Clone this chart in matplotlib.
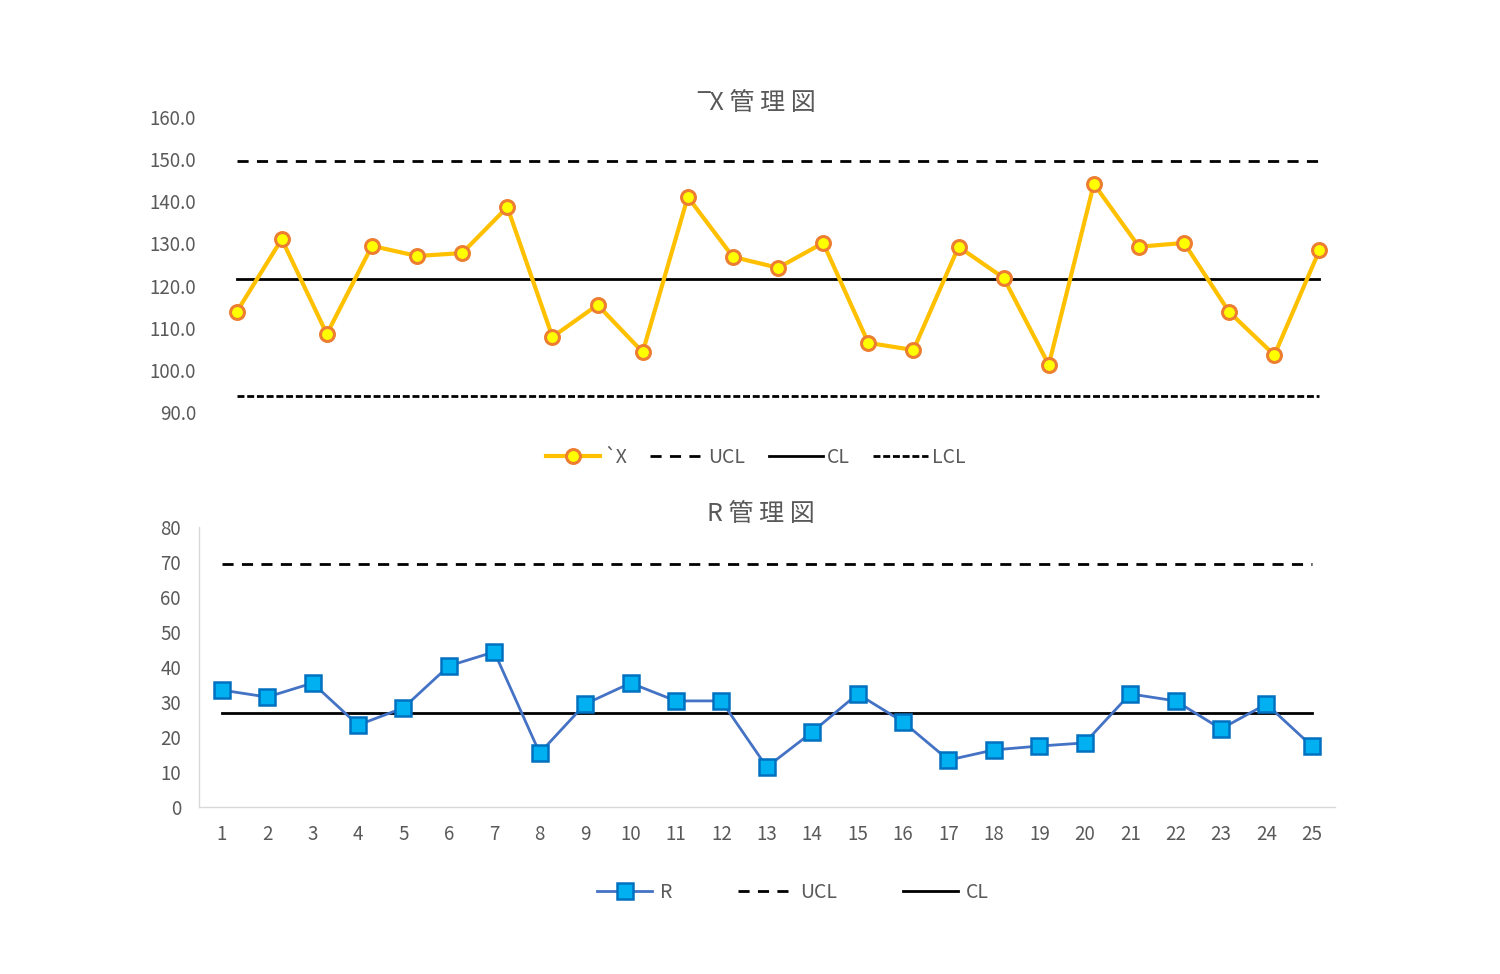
import matplotlib
matplotlib.use("Agg")
import matplotlib.pyplot as plt

plt.rcParams['font.family'] = ['Noto Sans CJK JP', 'DejaVu Sans']

# サンプル番号
samples = list(range(1, 26))

# X-bar 管理図のデータ
xbar = [113.7, 131.0, 108.5, 129.4, 127.0, 127.7, 138.6, 107.8, 115.4, 104.2,
        141.0, 126.8, 124.2, 130.1, 106.4, 104.7, 129.2, 121.8, 101.2, 144.1,
        129.2, 130.1, 113.7, 103.5, 128.4]
x_ucl = 149.6
x_cl = 121.6
x_lcl = 93.8

# R 管理図のデータ
r_vals = [33.4, 31.4, 35.4, 23.4, 28.3, 40.3, 44.3, 15.4, 29.4, 35.4,
          30.3, 30.3, 11.4, 21.4, 32.3, 24.3, 13.4, 16.3, 17.4, 18.3,
          32.3, 30.3, 22.3, 29.4, 17.4]
r_ucl = 69.4
r_cl = 26.9

x_ticks = [90, 100, 110, 120, 130, 140, 150, 160]
r_ticks = [0, 10, 20, 30, 40, 50, 60, 70, 80]

gray = '#595959'
fig = plt.figure(figsize=(15, 9.74), dpi=100)

# ---- X-bar chart ----
ax1 = fig.add_axes([0.1427, 0.577, 0.752, 0.303])
ax1.plot(samples, xbar, color='#FFC000', lw=3, marker='o', ms=10,
         mfc='#FFFF00', mec='#ED7D31', mew=2.2, label='`X', zorder=3)
ax1.plot(samples, [x_ucl] * 25, color='black', lw=2, dashes=(4, 3), label='UCL')
ax1.plot(samples, [x_cl] * 25, color='black', lw=2, label='CL')
ax1.plot(samples, [x_lcl] * 25, color='black', lw=2, dashes=(2.5, 1), label='LCL')
ax1.set_xlim(0.5, 25.5)
ax1.set_ylim(90, 160)
ax1.set_yticks(x_ticks)
ax1.set_yticklabels([f'{v:.1f}' for v in x_ticks])
ax1.set_xticks([])
for s in ax1.spines.values():
    s.set_visible(False)
ax1.tick_params(axis='y', length=0, labelsize=13.5, labelcolor=gray, pad=13)
ax1.set_title('\u203eX 管 理 図', fontsize=18, color=gray, pad=5, x=0.481)
ax1.legend(loc='upper center', bbox_to_anchor=(0.48, -0.058), ncol=4, frameon=False,
           fontsize=14, labelcolor=gray, handlelength=2.8, handletextpad=0.2,
           columnspacing=1.2)

# ---- R chart ----
ax2 = fig.add_axes([0.1327, 0.1715, 0.757, 0.2875])
ax2.plot(samples, r_vals, color='#4472C4', lw=2, marker='s', ms=11,
         mfc='#00B0F0', mec='#0070C0', mew=1.8, label='R', zorder=3)
ax2.plot(samples, [r_ucl] * 25, color='black', lw=2, dashes=(4, 3), label='UCL')
ax2.plot(samples, [r_cl] * 25, color='black', lw=2, label='CL')
ax2.set_xlim(0.5, 25.5)
ax2.set_ylim(0, 80)
ax2.set_yticks(r_ticks)
ax2.set_xticks(samples)
for side in ['top', 'right']:
    ax2.spines[side].set_visible(False)
for side in ['left', 'bottom']:
    ax2.spines[side].set_color('#D9D9D9')
    ax2.spines[side].set_linewidth(1)
ax2.tick_params(axis='both', length=0, labelsize=13.5, labelcolor=gray)
ax2.tick_params(axis='y', pad=13)
ax2.tick_params(axis='x', pad=12)
ax2.set_title('R 管 理 図', fontsize=18, color=gray, pad=0, x=0.495)
ax2.legend(loc='upper center', bbox_to_anchor=(0.523, -0.205), ncol=3, frameon=False,
           fontsize=14, labelcolor=gray, handlelength=2.8, handletextpad=0.4,
           columnspacing=3.4)

fig.savefig('out.png', dpi=100)
